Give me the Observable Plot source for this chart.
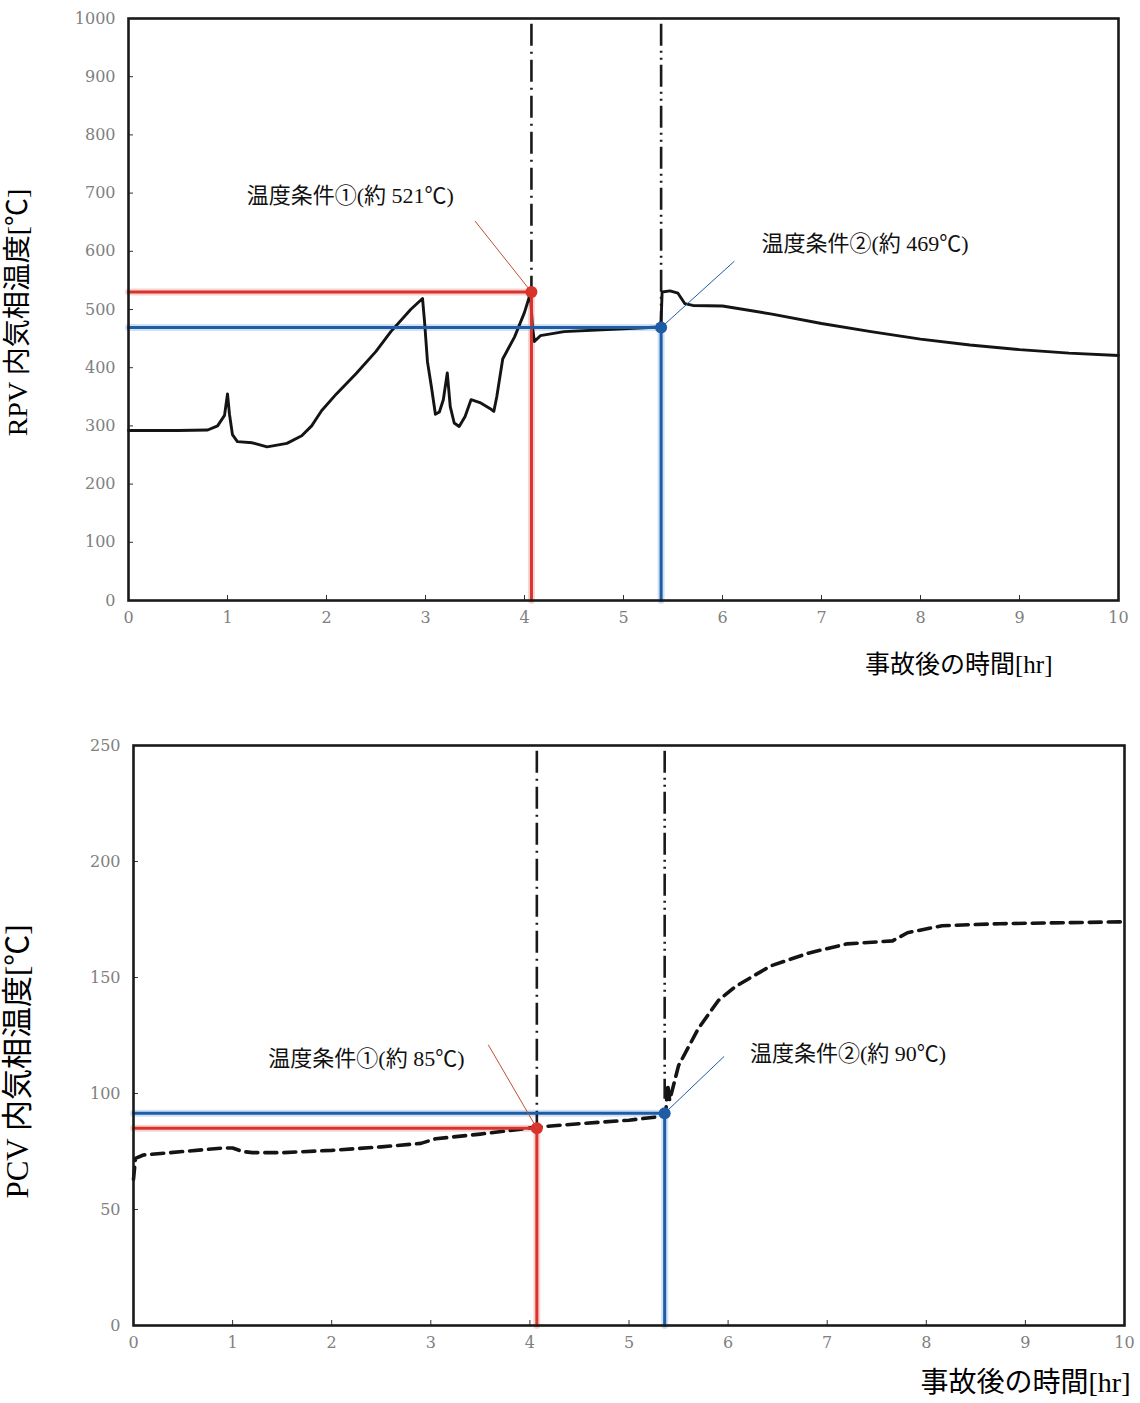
<!DOCTYPE html>
<html><head><meta charset="utf-8">
<script src="https://cdn.jsdelivr.net/npm/d3@7"></script>
<script src="https://cdn.jsdelivr.net/npm/@observablehq/plot@0.6"></script>
<style>
body{margin:0;background:#fff;}
#chart svg{display:block;}
</style>
</head><body><div id="chart"></div>
<script>
// ---- data ----
const xTicks = [0,1,2,3,4,5,6,7,8,9,10];
const rpvTicks = [0,100,200,300,400,500,600,700,800,900,1000];
const pcvTicks = [0,50,100,150,200,250];

const rpvTime = [0,0.5,0.8,0.9,0.97,1.0,1.02,1.05,1.1,1.25,1.4,1.6,1.75,1.85,1.95,2.1,2.3,2.5,2.65,2.85,2.97,2.99,3.02,3.06,3.1,3.14,3.18,3.22,3.25,3.29,3.34,3.4,3.46,3.55,3.65,3.69,3.72,3.78,3.9,4.0,4.06,4.08,4.1,4.16,4.4,5.0,5.36,5.38,5.39,5.47,5.55,5.62,5.7,6.0,6.5,7.0,7.5,8.0,8.5,9.0,9.5,10.0];
const rpvTemp = [292,292,293,300,318,355,320,285,273,271,264,270,283,300,326,355,390,428,462,500,519,480,410,367,320,324,345,391,333,305,299,316,345,340,330,325,350,415,453,495,528,470,445,455,462,467,470,480,530,532,528,510,507,506,492,476,462,449,439,431,425,421];

const pcvTime = [0,0.02,0.1,0.5,0.9,1.0,1.1,1.2,1.5,2.0,2.5,2.9,3.05,3.5,4.07,4.5,5.0,5.3,5.37,5.39,5.41,5.5,5.7,5.9,6.07,6.43,6.81,7.2,7.66,7.81,8.16,8.74,10.0];
const pcvTemp = [63,72,73.5,75,76.5,76.5,75,74.5,74.5,75.5,77,78.5,80.5,82.5,85.5,87,88.5,90,91,104,97,112,128,140,146,155,160.5,164.5,165.8,169.3,172.3,173.2,174];

// condition points: [time, temperature]
const rpvCond1 = [4.07, 530];
const rpvCond2 = [5.38, 469];
const pcvCond1 = [4.07, 85];
const pcvCond2 = [5.36, 91.5];

const rpvLabels = ["温度条件①(約 521℃)", "温度条件②(約 469℃)"];
const pcvLabels = ["温度条件①(約 85℃)", "温度条件②(約 90℃)"];
// label anchors [time, temp] and leader starts
const rpvLabelPos = [[2.24, 695], [7.44, 612]];
const rpvLeaderStart = [[3.5, 652], [6.12, 583]];
const pcvLabelPos = [[2.35, 115], [7.21, 117]];
const pcvLeaderStart = [[3.58, 121], [5.96, 116]];

const xTitle = "事故後の時間[hr]";
const rpvTitle = "RPV 内気相温度[℃]";
const pcvTitle = "PCV 内気相温度[℃]";

// ---- drawing ----
const RED = "#d8342c", BLUE = "#1f5ca6";
const FONT = "'Liberation Serif','Noto Sans CJK JP',serif";
const TICKFONT = "'DejaVu Serif','Liberation Serif',serif";

function panel(o) {
  const series = o.time.map((t, i) => ({t, v: o.temp[i]}));
  const [c1, c2] = o.conds;
  const redPath = [{t:0, v:c1[1]}, {t:c1[0], v:c1[1]}, {t:c1[0], v:0}];
  const bluePath = [{t:0, v:c2[1]}, {t:c2[0], v:c2[1]}, {t:c2[0], v:0}];
  const ymax = o.yTicks[o.yTicks.length - 1];
  const labels = o.labels.map((s, i) => ({s, t:o.labelPos[i][0], v:o.labelPos[i][1]}));
  const leaders = o.conds.map((c, i) => ({t1:o.leader[i][0], v1:o.leader[i][1], t2:c[0], v2:c[1], color: i ? BLUE : "#c2502e"}));
  const fmt = d => String(d);
  return Plot.plot({
    width: 1140, height: o.height,
    marginTop: o.mt, marginBottom: o.mb, marginLeft: o.ml, marginRight: o.mr,
    x: {domain: [0, 10]},
    y: {domain: [0, ymax]},
    style: {fontFamily: FONT, background: "#fff", overflow: "visible", fontSize: "16px"},
    marks: [
      // halos
      Plot.line(redPath, {x:"t", y:"v", stroke:"#f3b3ad", strokeWidth:7, strokeOpacity:0.55}),
      Plot.line(bluePath, {x:"t", y:"v", stroke:"#a9c8ee", strokeWidth:7, strokeOpacity:0.55}),
      // dash-dot markers of conditions
      Plot.ruleX([c1[0]], {y1: ymax*0.99, y2: c1[1], stroke:"#1a1a1a", strokeWidth:2.6, strokeDasharray:"22,6,2,6"}),
      Plot.ruleX([c2[0]], {y1: ymax*0.99, y2: c2[1]+ (o.dd2||0), stroke:"#1a1a1a", strokeWidth:2.6, strokeDasharray:"22,5,2,5,2,5"}),
      // series
      Plot.line(series, {x:"t", y:"v", stroke:"#141414", strokeWidth: o.dashed ? 3.6 : 2.9,
        strokeDasharray: o.dashed ? "12,7" : null, curve:"linear"}),
      Plot.line(redPath, {x:"t", y:"v", stroke:RED, strokeWidth:3}),
      Plot.line(bluePath, {x:"t", y:"v", stroke:BLUE, strokeWidth:3}),
      Plot.dot([{t:c1[0], v:c1[1]}], {x:"t", y:"v", r:6, fill:RED}),
      Plot.dot([{t:c2[0], v:c2[1]}], {x:"t", y:"v", r:6, fill:BLUE}),
      Plot.link(leaders, {x1:"t1", y1:"v1", x2:"t2", y2:"v2", stroke:"color", strokeWidth:1}),
      Plot.text(labels, {x:"t", y:"v", text:"s", fontSize:22, fill:"#111", fontFamily:FONT}),
      // axes
      Plot.axisX(xTicks, {tickSize:0, tickPadding:11, fontSize:16, color:"#808080", fontFamily:TICKFONT, tickFormat:fmt, label:null}),
      Plot.axisX(xTicks, {tickSize:5, dy:-5, tickFormat:() => "", color:"#333", label:null}),
      Plot.axisY(o.yTicks, {tickSize:0, tickPadding:13, fontSize:16, color:"#808080", fontFamily:TICKFONT, tickFormat:fmt, label:null}),
      Plot.axisY(o.yTicks, {tickSize:5, dx:5, tickFormat:() => "", color:"#333", label:null}),
      Plot.frame({stroke:"#1a1a1a", strokeWidth:2.6}),
      // titles
      Plot.text([o.yTitle], {frameAnchor:"left", textAnchor:"middle", rotate:-90, dx:o.ytdx, dy:o.ytdy, fontSize:o.ytSize, fill:"#000", fontFamily:FONT}),
      Plot.text([xTitle], {frameAnchor:"bottom-right", textAnchor:"end", dx:o.xtdx, dy:o.xtdy, fontSize:o.xtSize, fill:"#000", fontFamily:FONT})
    ]
  });
}

const root = document.getElementById("chart");
root.append(panel({
  time: rpvTime, temp: rpvTemp, yTicks: rpvTicks, conds: [rpvCond1, rpvCond2],
  labels: rpvLabels, labelPos: rpvLabelPos, leader: rpvLeaderStart,
  height: 700, mt: 18, mb: 100, ml: 128, mr: 22,
  yTitle: rpvTitle, ytdx: -110, ytdy: 3, ytSize: 28, xtdx: -66, xtdy: 72, xtSize: 25, dashed: false
}));
root.append(panel({
  time: pcvTime, temp: pcvTemp, yTicks: pcvTicks, conds: [pcvCond1, pcvCond2],
  labels: pcvLabels, labelPos: pcvLabelPos, leader: pcvLeaderStart,
  height: 703, mt: 45, mb: 78, ml: 133, mr: 16,
  yTitle: pcvTitle, ytdx: -115, ytdy: 26, ytSize: 31, xtdx: 6, xtdy: 66, xtSize: 28, dashed: true, dd2: 6
}));
</script>
</body></html>
